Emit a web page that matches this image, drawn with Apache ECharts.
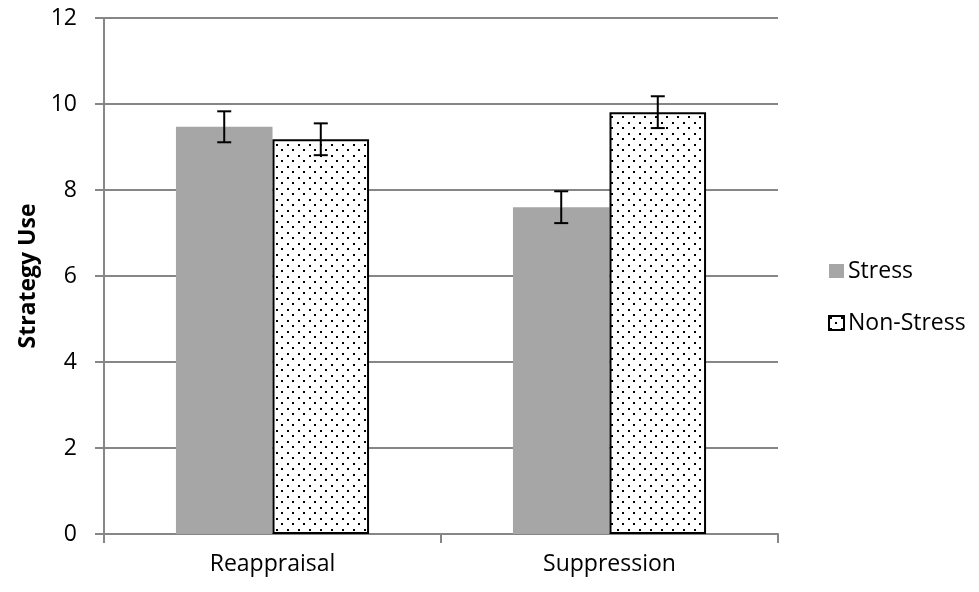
<!DOCTYPE html>
<html>
<head>
<meta charset="utf-8">
<script src="https://cdn.jsdelivr.net/npm/echarts@6/dist/echarts.min.js"></script>
<style>
  html, body { margin: 0; padding: 0; background: #fff; }
  #chart { width: 979px; height: 592px; }
</style>
</head>
<body>
<div id="chart"></div>
<script>
// values
const categories = ['Reappraisal', 'Suppression'];
const stressMean = [9.47, 7.60];
const stressErr = [0.36, 0.37];
const nonStressMean = [9.18, 9.81];
const nonStressErr = [0.37, 0.37];
const yTicks = [0, 2, 4, 6, 8, 10, 12];

const gridColor = '#868686';
const font = '"Open Sans", "Noto Sans", sans-serif';
const catGap = 0.427;

// dotted fill for the non-stress bars
function dotPattern() {
  var c = document.createElement('canvas');
  c.width = 11;
  c.height = 11;
  var ctx = c.getContext('2d');
  ctx.fillStyle = '#fff';
  ctx.fillRect(0, 0, 11, 11);
  ctx.fillStyle = '#000';
  ctx.fillRect(1, 1, 2, 2);
  ctx.fillRect(6, 6, 2, 2);
  return c;
}

// error bar data: [category index, low, high, side]
function errData(mean, err, side) {
  return mean.map(function (m, i) {
    return [i, m - err[i], m + err[i], side];
  });
}

function renderErr(params, api) {
  var i = api.value(0);
  var lo = api.coord([i, api.value(1)]);
  var hi = api.coord([i, api.value(2)]);
  var band = api.size([1, 0])[0];
  var barW = band * (1 - catGap) / 2;
  var x = lo[0] + api.value(3) * barW / 2;
  var cap = 7;
  var style = { stroke: '#000', lineWidth: 2 };
  return {
    type: 'group',
    children: [
      { type: 'line', shape: { x1: x, y1: lo[1], x2: x, y2: hi[1] }, style: style },
      { type: 'line', shape: { x1: x - cap, y1: hi[1], x2: x + cap, y2: hi[1] }, style: style },
      { type: 'line', shape: { x1: x - cap, y1: lo[1], x2: x + cap, y2: lo[1] }, style: style }
    ]
  };
}

var chart = echarts.init(document.getElementById('chart'));
chart.setOption({
  animation: false,
  backgroundColor: '#fff',
  textStyle: { fontFamily: font },
  grid: { left: 104, right: 201, top: 18, bottom: 58 },
  legend: {
    orient: 'vertical',
    left: 823,
    top: 254,
    icon: 'rect',
    itemWidth: 15,
    itemHeight: 14,
    itemGap: 28,
    data: ['Stress', 'Non-Stress'],
    textStyle: { fontSize: 23, color: '#000', fontFamily: font, lineHeight: 24, padding: [0, 0, 0, -1] }
  },
  xAxis: {
    type: 'category',
    data: categories,
    axisLine: { lineStyle: { color: gridColor, width: 2 } },
    axisTick: { show: true, length: 9, lineStyle: { color: gridColor, width: 2 } },
    axisLabel: { fontSize: 23, color: '#000', margin: 19, fontFamily: font }
  },
  yAxis: {
    type: 'value',
    min: yTicks[0],
    max: yTicks[yTicks.length - 1],
    interval: 2,
    name: 'Strategy Use',
    nameLocation: 'middle',
    nameGap: 64,
    nameTextStyle: { fontSize: 23, fontWeight: 'bold', color: '#000', fontFamily: font },
    axisLine: { show: true, lineStyle: { color: gridColor, width: 2 } },
    axisTick: { show: true, length: 9, lineStyle: { color: gridColor, width: 2 } },
    axisLabel: { fontSize: 23, color: '#000', margin: 27, fontFamily: font },
    splitLine: { lineStyle: { color: gridColor, width: 2 } }
  },
  series: [
    {
      name: 'Stress',
      type: 'bar',
      data: stressMean,
      barGap: 0,
      barCategoryGap: (catGap * 100) + '%',
      itemStyle: { color: '#a6a6a6' }
    },
    {
      name: 'Non-Stress',
      type: 'bar',
      data: nonStressMean,
      barGap: 0,
      barCategoryGap: (catGap * 100) + '%',
      itemStyle: {
        color: { image: dotPattern(), repeat: 'repeat' },
        borderColor: '#000',
        borderWidth: 2
      }
    },
    {
      type: 'custom',
      renderItem: renderErr,
      data: errData(stressMean, stressErr, -1),
      z: 5
    },
    {
      type: 'custom',
      renderItem: renderErr,
      data: errData(nonStressMean, nonStressErr, 1),
      z: 5
    }
  ]
});
</script>
</body>
</html>
